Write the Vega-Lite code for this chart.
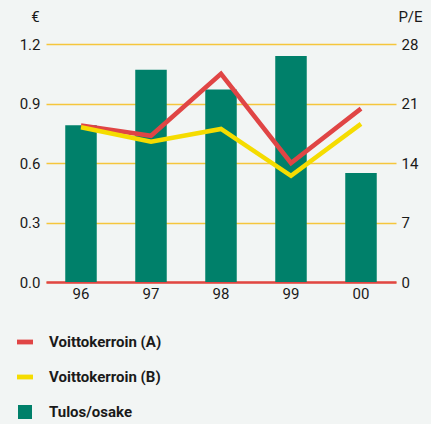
{
  "$schema": "https://vega.github.io/schema/vega-lite/v6.json",
  "width": 350,
  "height": 238,
  "autosize": {"type": "none"},
  "padding": {"left": 46, "top": 44, "right": 35, "bottom": 142},
  "background": "#f2f5f4",
  "config": {
    "view": {"stroke": null},
    "font": "Roboto, sans-serif",
    "axis": {"labelFont": "Roboto, sans-serif", "labelFontSize": 15, "labelColor": "#1a1a1a", "titleFont": "Roboto, sans-serif", "titleFontWeight": "normal", "titleFontSize": 15, "titleColor": "#1a1a1a"},
    "legend": {"title": null}
  },
  "datasets": {
    "eps": [
      {"year": "96", "eps": 0.79},
      {"year": "97", "eps": 1.07},
      {"year": "98", "eps": 0.97},
      {"year": "99", "eps": 1.14},
      {"year": "00", "eps": 0.55}
    ],
    "pe": [
      {"year": "96", "series": "Voittokerroin (A)", "pe": 18.4},
      {"year": "97", "series": "Voittokerroin (A)", "pe": 17.2},
      {"year": "98", "series": "Voittokerroin (A)", "pe": 24.5},
      {"year": "99", "series": "Voittokerroin (A)", "pe": 14.0},
      {"year": "00", "series": "Voittokerroin (A)", "pe": 20.4},
      {"year": "96", "series": "Voittokerroin (B)", "pe": 18.2},
      {"year": "97", "series": "Voittokerroin (B)", "pe": 16.5},
      {"year": "98", "series": "Voittokerroin (B)", "pe": 18.0},
      {"year": "99", "series": "Voittokerroin (B)", "pe": 12.5},
      {"year": "00", "series": "Voittokerroin (B)", "pe": 18.6}
    ]
  },
  "encoding": {
    "x": {
      "field": "year",
      "type": "ordinal",
      "sort": ["96", "97", "98", "99", "00"],
      "scale": {"paddingInner": 0.55, "paddingOuter": 0.275},
      "axis": {"title": null, "labelAngle": 0, "ticks": false, "labelPadding": 4, "domainColor": "#e04545", "domainWidth": 2.5}
    }
  },
  "layer": [
    {
      "data": {"name": "eps"},
      "mark": {"type": "bar", "color": "#00806a"},
      "encoding": {
        "y": {
          "field": "eps",
          "type": "quantitative",
          "scale": {"domain": [0, 1.2], "nice": false},
          "axis": {
            "title": "€",
            "titleAngle": 0,
            "titleX": -11,
            "titleY": -28,
            "titleAlign": "center",
            "titleBaseline": "middle",
            "values": [0, 0.3, 0.6, 0.9, 1.2],
            "format": ".1f",
            "domain": false,
            "ticks": false,
            "labelPadding": 6,
            "grid": true,
            "gridColor": "#f5c63c",
            "gridWidth": 1.6
          }
        },
        "color": {
          "datum": "Tulos/osake",
          "type": "nominal",
          "title": null,
          "scale": {
            "domain": ["Voittokerroin (A)", "Voittokerroin (B)", "Tulos/osake"],
            "range": ["#e04545", "#f5dc00", "#00806a"]
          },
          "legend": {
            "title": null,
            "orient": "none",
            "legendX": -29,
            "legendY": 290,
            "labelFont": "Roboto, sans-serif",
            "labelFontSize": 15,
            "labelFontWeight": "bold",
            "labelColor": "#1a1a1a",
            "labelOffset": 16,
            "symbolSize": 256,
            "rowPadding": 19,
            "symbolStrokeWidth": 0,
            "symbolOpacity": 1,
            "encode": {
              "symbols": {
                "update": {
                  "shape": {"signal": "datum.label == 'Tulos/osake' ? 'M-0.875,-0.875H0.875V0.875H-0.875Z' : 'M-1,-0.3H1V0.3H-1Z'"},
                  "fill": {"scale": "color", "field": "value"},
                  "strokeWidth": {"value": 0},
                  "opacity": {"value": 1}
                }
              }
            }
          }
        }
      }
    },
    {
      "data": {"name": "pe"},
      "mark": {"type": "line", "strokeWidth": 4.5, "strokeJoin": "miter"},
      "encoding": {
        "y": {
          "field": "pe",
          "type": "quantitative",
          "scale": {"domain": [0, 28], "nice": false},
          "axis": {
            "orient": "right",
            "title": "P/E",
            "titleAngle": 0,
            "titleX": 14,
            "titleY": -28,
            "titleAlign": "center",
            "titleBaseline": "middle",
            "values": [0, 7, 14, 21, 28],
            "domain": false,
            "ticks": false,
            "labelPadding": 5,
            "grid": false
          }
        },
        "color": {"field": "series", "type": "nominal", "title": null}
      }
    }
  ],
  "resolve": {"scale": {"y": "independent"}}
}
